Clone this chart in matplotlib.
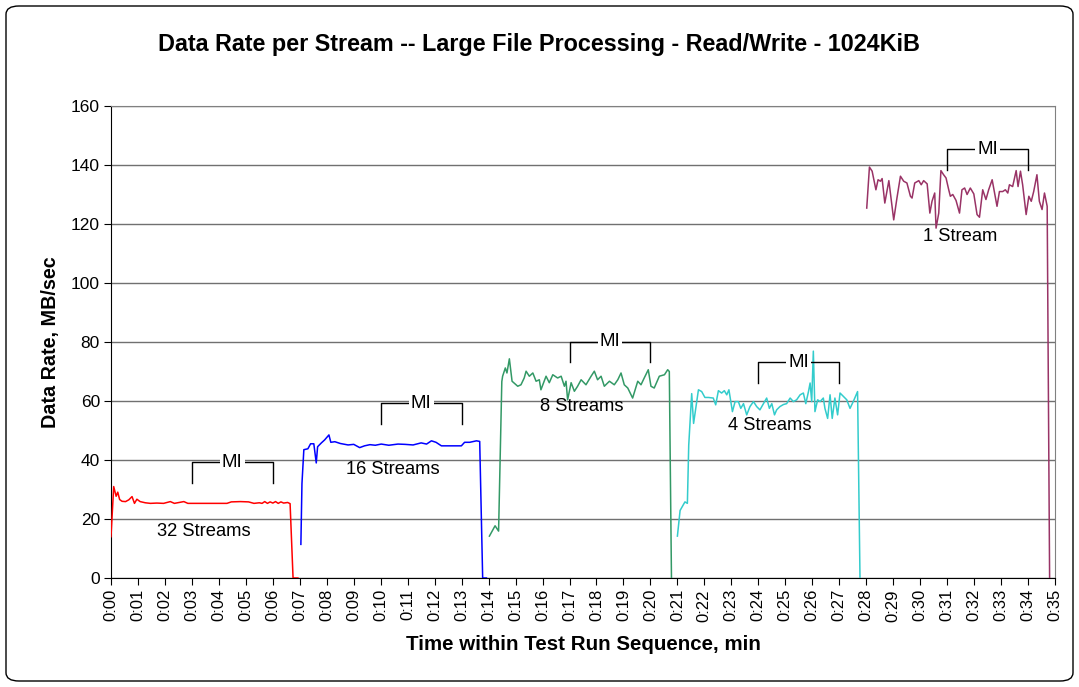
import matplotlib
matplotlib.use("Agg")
import numpy as np
from matplotlib import pyplot as plt
from matplotlib.patches import FancyBboxPatch
from matplotlib.ticker import FuncFormatter, MultipleLocator

plt.rcParams["font.family"] = ["Liberation Sans", "DejaVu Sans"]

# minutes within the run, MB/sec per stream
t_32 = [0.00, 0.10, 0.19, 0.25, 0.32, 0.41, 0.54, 0.66, 0.78, 0.87, 0.96, 1.08, 1.27, 1.46,
        1.70, 1.95, 2.20, 2.35, 2.70, 2.85, 3.10, 3.50, 3.90, 4.30, 4.46, 4.80, 5.10, 5.30,
        5.50, 5.60, 5.70, 5.80, 5.90, 6.00, 6.10, 6.20, 6.30, 6.40, 6.55, 6.64, 6.75, 6.93]
v_32 = [14.0, 31.0, 27.7, 29.1, 26.6, 26.0, 25.9, 26.5, 27.6, 25.3, 26.7, 25.9, 25.5, 25.3,
        25.4, 25.3, 25.9, 25.3, 25.9, 25.3, 25.3, 25.3, 25.3, 25.3, 25.8, 25.9, 25.8, 25.3,
        25.5, 25.3, 25.9, 25.3, 25.8, 25.4, 25.9, 25.3, 25.8, 25.4, 25.6, 25.2, 0.0, 0.0]

t_16 = [7.04, 7.08, 7.15, 7.30, 7.40, 7.52, 7.61, 7.66, 7.80, 7.92, 8.08, 8.15, 8.30, 8.50,
        8.79, 9.00, 9.22, 9.40, 9.60, 9.80, 10.02, 10.30, 10.64, 10.90, 11.20, 11.50, 11.70,
        11.88, 12.05, 12.25, 12.60, 12.99, 13.11, 13.30, 13.55, 13.67, 13.78, 13.92]
v_16 = [11.4, 32.0, 43.5, 43.8, 45.5, 45.5, 39.0, 44.5, 45.8, 46.8, 48.5, 46.0, 46.2, 45.6,
        45.1, 45.3, 44.2, 44.8, 45.2, 45.0, 45.4, 45.0, 45.4, 45.3, 45.1, 45.8, 45.4,
        46.5, 46.0, 44.8, 44.8, 44.8, 46.0, 46.0, 46.5, 46.3, 0.0, 0.0]

t_8 = [14.03, 14.24, 14.37, 14.49, 14.52, 14.62, 14.68, 14.77, 14.87, 15.08, 15.20, 15.32,
       15.39, 15.51, 15.64, 15.76, 15.88, 15.94, 16.13, 16.25, 16.38, 16.56, 16.69, 16.81,
       16.87, 16.93, 17.06, 17.18, 17.30, 17.43, 17.61, 17.80, 17.92, 18.04, 18.17, 18.29,
       18.48, 18.66, 18.79, 18.91, 19.03, 19.16, 19.34, 19.53, 19.65, 19.77, 19.92, 20.02,
       20.14, 20.33, 20.52, 20.64, 20.70, 20.78]
v_8 = [14.2, 17.7, 15.9, 66.6, 68.4, 71.2, 69.5, 74.3, 66.7, 65.0, 65.5, 67.8,
       70.1, 68.4, 69.5, 66.7, 67.2, 63.8, 68.4, 66.2, 68.9, 67.8, 68.4, 65.0,
       66.7, 60.4, 66.2, 63.3, 65.0, 67.2, 65.5, 68.4, 70.1, 67.2, 68.4, 65.0,
       66.7, 65.5, 67.2, 69.5, 65.5, 64.4, 61.0, 66.7, 65.5, 67.8, 70.6, 65.0,
       64.4, 68.4, 68.9, 70.6, 70.0, 0.0]

t_4 = [21.00, 21.10, 21.28, 21.37, 21.42, 21.53, 21.60, 21.78, 21.90, 22.02, 22.15, 22.33,
       22.42, 22.52, 22.64, 22.74, 22.83, 22.91, 23.04, 23.14, 23.26, 23.35, 23.45, 23.57,
       23.69, 23.82, 23.94, 24.06, 24.19, 24.31, 24.41, 24.50, 24.60, 24.68, 24.80, 24.93,
       25.05, 25.18, 25.30, 25.42, 25.55, 25.67, 25.76, 25.86, 25.92, 25.98, 26.04, 26.10,
       26.20, 26.29, 26.41, 26.47, 26.57, 26.66, 26.74, 26.84, 26.94, 27.03, 27.15, 27.28,
       27.40, 27.52, 27.68, 27.77]
v_4 = [14.2, 22.9, 25.8, 25.3, 45.0, 62.5, 52.4, 63.8, 63.2, 61.2, 61.2, 61.0,
       58.7, 63.5, 62.7, 63.5, 62.1, 63.8, 56.4, 59.8, 59.8, 57.5, 59.1, 55.3,
       58.1, 59.8, 58.1, 57.0, 59.1, 61.0, 57.5, 59.1, 55.3, 57.0, 58.1, 58.8,
       59.1, 61.0, 59.8, 60.4, 62.1, 62.7, 59.1, 63.2, 66.1, 59.8, 76.9, 56.4,
       60.4, 59.8, 61.0, 57.5, 54.1, 62.1, 54.1, 61.0, 55.3, 62.7, 61.6, 60.4,
       57.5, 59.8, 63.2, 0.0]

t_1 = [28.02, 28.12, 28.22, 28.36, 28.44, 28.53, 28.59, 28.69, 28.84, 29.02, 29.14, 29.27,
       29.39, 29.51, 29.64, 29.70, 29.80, 29.95, 30.04, 30.13, 30.26, 30.36, 30.44, 30.54,
       30.59, 30.69, 30.77, 30.87, 30.96, 31.06, 31.12, 31.21, 31.33, 31.46, 31.55, 31.65,
       31.74, 31.86, 31.99, 32.11, 32.20, 32.32, 32.44, 32.54, 32.67, 32.77, 32.85, 32.94,
       33.06, 33.16, 33.25, 33.31, 33.43, 33.56, 33.63, 33.72, 33.80, 33.93, 34.03, 34.12,
       34.21, 34.33, 34.42, 34.52, 34.61, 34.71, 34.80]
v_1 = [125.4, 139.3, 137.9, 131.6, 135.0, 134.5, 135.4, 127.1, 134.7, 121.4, 128.8, 136.2,
       134.5, 133.9, 129.4, 128.8, 133.9, 134.7, 133.3, 134.7, 133.6, 123.7, 127.7, 130.5,
       118.6, 123.7, 138.1, 136.7, 135.6, 131.6, 129.4, 130.0, 128.0, 123.7, 131.6, 132.2,
       130.0, 132.2, 130.2, 123.2, 122.3, 131.6, 128.3, 131.6, 135.0, 130.0, 126.0, 131.0,
       131.0, 131.6, 130.5, 133.3, 132.7, 138.1, 132.7, 137.9, 133.3, 123.2, 129.4, 127.7,
       131.0, 136.7, 127.7, 124.9, 130.5, 126.0, 0.0]

series = [
    ("32 Streams", t_32, v_32, "#FF0000"),
    ("16 Streams", t_16, v_16, "#0000FF"),
    ("8 Streams", t_8, v_8, "#339966"),
    ("4 Streams", t_4, v_4, "#33CCCC"),
    ("1 Stream", t_1, v_1, "#993366"),
]

# measurement interval brackets: start, end, top
mi_brackets = [(3, 6, 39.3), (10, 13, 59.3), (17, 20, 80.1), (24, 27, 73.1), (31, 34, 145.4)]
label_pos = [(3.45, 15.9), (10.45, 36.9), (17.46, 58.0), (24.43, 51.7), (31.48, 115.9)]

fig = plt.figure(figsize=(10.79, 6.87), dpi=100)
ax = fig.add_axes([111 / 1079, 1 - 578 / 687, 944 / 1079, 472 / 687])

fig.patches.append(FancyBboxPatch((6 / 1079, 6 / 687), 1067 / 1079, 675 / 687,
                                  boxstyle="round,pad=0,rounding_size=0.012",
                                  transform=fig.transFigure, fill=False,
                                  edgecolor="black", linewidth=1.0))

for (name, t, v, color), (lx, ly) in zip(series, label_pos):
    ax.plot(t, v, color=color, linewidth=1.1, zorder=3)
    ax.text(lx, ly, name, ha="center", va="center", fontsize=13.2, zorder=4)

for x0, x1, top in mi_brackets:
    leg = 7.0
    ax.plot([x0, x0, x1, x1], [top - leg, top, top, top - leg], color="black",
            linewidth=1.0, zorder=4)
    ax.text((x0 + x1) / 2, top, "MI", ha="center", va="center", fontsize=13.5, zorder=5,
            bbox=dict(facecolor="white", edgecolor="none", pad=1.5))

ax.set_xlim(0, 35)
ax.set_ylim(0, 160)
ax.xaxis.set_major_locator(MultipleLocator(1))
ax.yaxis.set_major_locator(MultipleLocator(20))
ax.xaxis.set_major_formatter(FuncFormatter(lambda x, pos: f"0:{int(round(x)):02d}"))
ax.tick_params(axis="x", labelrotation=90, labelsize=12, direction="out", length=5, pad=3)
ax.tick_params(axis="y", labelsize=12.5, direction="out", length=5, pad=3)
ax.grid(axis="y", color="#707070", linewidth=1.0)
ax.set_axisbelow(True)

for side in ("top", "right"):
    ax.spines[side].set_color("#808080")
for side in ("left", "bottom"):
    ax.spines[side].set_color("black")

ax.set_xlabel("Time within Test Run Sequence, min", fontsize=14.8, fontweight="bold", labelpad=10)
ax.set_ylabel("Data Rate, MB/sec", fontsize=14.2, fontweight="bold", labelpad=8)
fig.text(0.5, 1 - 45 / 687, "Data Rate per Stream -- Large File Processing - Read/Write - 1024KiB",
         ha="center", va="center", fontsize=16.8, fontweight="bold")

plt.savefig("out.png", dpi=100)
plt.close(fig)
